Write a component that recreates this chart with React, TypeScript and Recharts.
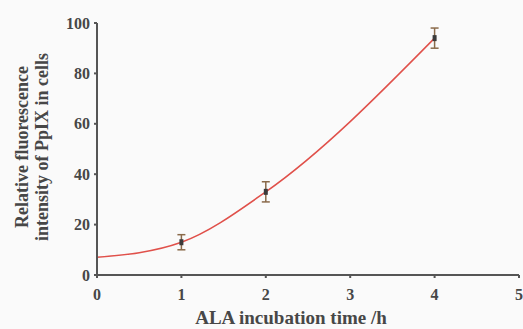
import React from 'react';
import { LineChart, Line, XAxis, YAxis, ErrorBar } from 'recharts';

const hours = [0, 1, 2, 4];
const intensity = [7, 13, 33, 94];
const errors = [0, 3, 4, 4];

const xTicks = [0, 1, 2, 3, 4, 5];
const yTicks = [0, 20, 40, 60, 80, 100];

const data = hours.map((h, i) => ({ hour: h, value: intensity[i], err: errors[i] }));

const font = '"Liberation Serif", "Times New Roman", serif';
const textStyle = { fill: '#474747', fontWeight: 'bold', fontFamily: font } as const;

const Dot = (props: any) => {
    const { cx, cy, index } = props;
    if (index === 0) return null;
    return <rect x={cx - 2} y={cy - 3} width={4} height={6} fill="#3a3a3a" />;
};

export default function App() {
    return (
        <div style={{ position: 'absolute', left: 0, top: 0, width: 523, height: 329, background: '#fafafa' }}>
            <LineChart width={523} height={329} data={data} margin={{ top: 23, right: 4, bottom: 24, left: 37 }}>
                <XAxis
                    dataKey="hour"
                    type="number"
                    domain={[0, 5]}
                    ticks={xTicks}
                    height={30}
                    stroke="#555"
                    strokeWidth={2}
                    tickSize={3}
                    tick={{ ...textStyle, fontSize: 16, dy: 9 }}
                />
                <YAxis
                    type="number"
                    domain={[0, 100]}
                    ticks={yTicks}
                    width={60}
                    stroke="#555"
                    strokeWidth={2}
                    tickSize={3}
                    tick={{ ...textStyle, fontSize: 16, dx: -2 }}
                />
                <text x={291} y={320} textAnchor="middle" dominantBaseline="middle" style={{ ...textStyle, fontSize: 19 }}>
                    ALA incubation time /h
                </text>
                <text x={24} y={147} transform="rotate(-90 24 147)" textAnchor="middle" dominantBaseline="middle"
                    style={{ ...textStyle, fontSize: 18 }}>
                    Relative fluorescence
                </text>
                <text x={44} y={147} transform="rotate(-90 44 147)" textAnchor="middle" dominantBaseline="middle"
                    style={{ ...textStyle, fontSize: 18 }}>
                    intensity of PpIX in cells
                </text>
                <Line
                    type="monotone"
                    dataKey="value"
                    stroke="#e0504a"
                    strokeWidth={1.5}
                    dot={<Dot />}
                    activeDot={false}
                    isAnimationActive={false}
                >
                    <ErrorBar dataKey="err" width={4} stroke="#8a6a4a" strokeWidth={1.5} direction="y" />
                </Line>
            </LineChart>
        </div>
    );
}
